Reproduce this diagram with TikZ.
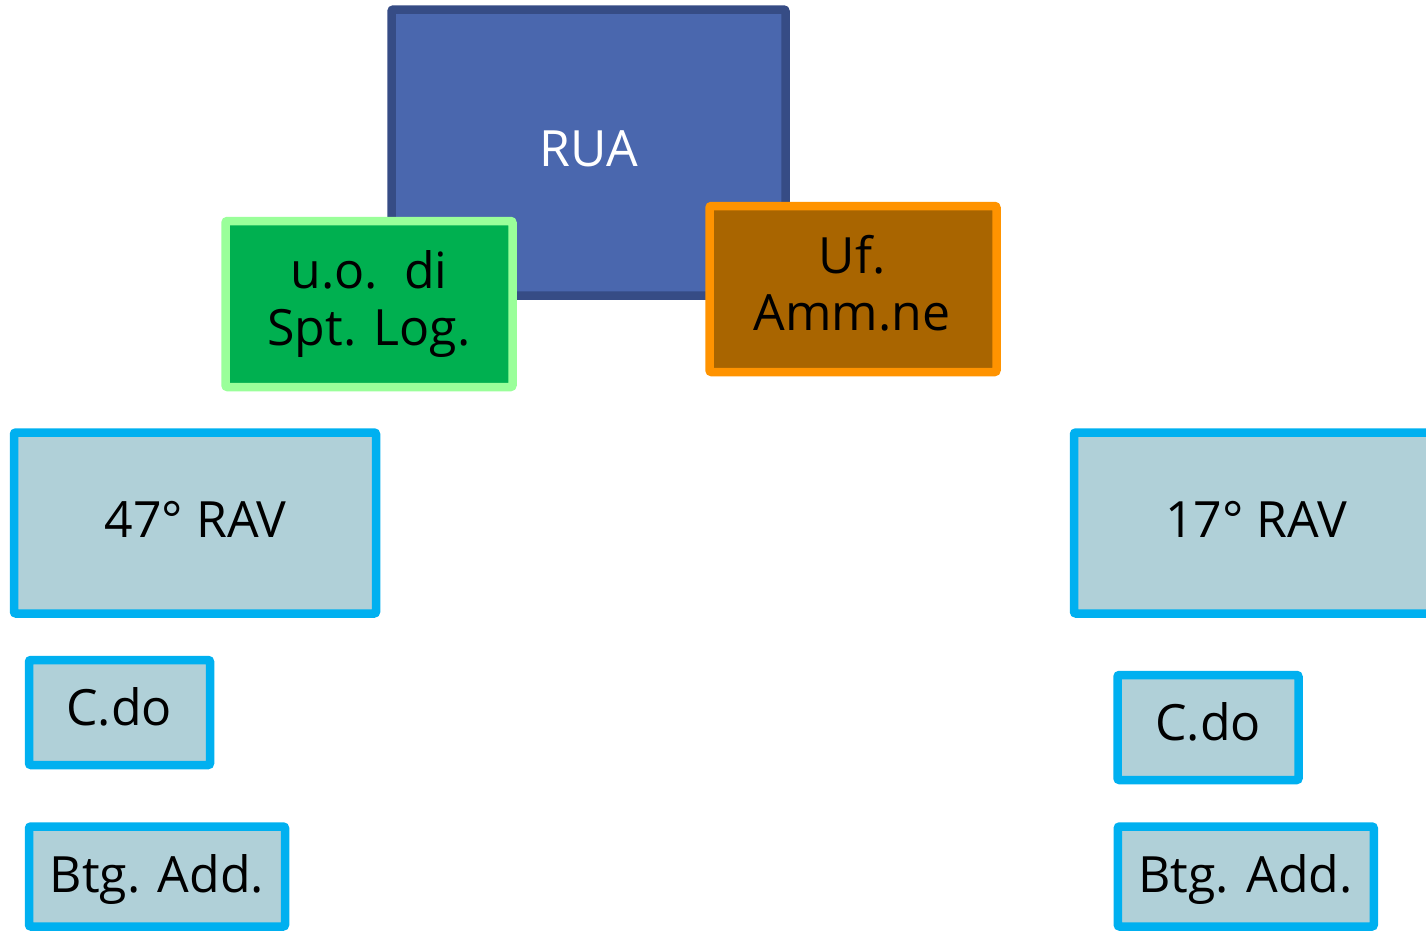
\documentclass[tikz,border=0pt]{standalone}
\usepackage{fontspec}
\setmainfont{Open Sans}
\definecolor{ruafill}{HTML}{4A67AE}
\definecolor{ruaedge}{HTML}{364C85}
\definecolor{grfill}{HTML}{00B050}
\definecolor{gredge}{HTML}{9AFF9A}
\definecolor{orfill}{HTML}{A96500}
\definecolor{oredge}{HTML}{FF9300}
\definecolor{blfill}{HTML}{B0D0D8}
\definecolor{bledge}{HTML}{00B0F0}
\begin{document}
\begin{tikzpicture}[x=1pt,y=-1pt,
  boxshape/.style={draw, rectangle, rounded corners=2pt, line width=8.5pt, inner sep=0pt, outer sep=0pt},
  ruabox/.style={boxshape, fill=ruafill, draw=ruaedge},
  grbox/.style={boxshape, fill=grfill, draw=gredge},
  orbox/.style={boxshape, fill=orfill, draw=oredge},
  blbox/.style={boxshape, fill=blfill, draw=bledge},
  lbl/.style={anchor=base, inner sep=0pt, align=center, font=\fontsize{50}{57}\selectfont}
]
\useasboundingbox (0,0) rectangle (1426,932);
\clip (0,0) rectangle (1426,932);
% boxes
\node[ruabox, minimum width=394pt, minimum height=286pt] (rua) at (588.5,152.5) {};
\node[grbox, minimum width=287pt, minimum height=166pt] (uo) at (369,304) {};
\node[orbox, minimum width=287pt, minimum height=166pt] (uf) at (853,289) {};
\node[blbox, minimum width=362pt, minimum height=181pt] (ravl) at (195,523) {};
\node[blbox, minimum width=364pt, minimum height=181pt] (ravr) at (1256,523) {};
\node[blbox, minimum width=181pt, minimum height=105pt] (cdol) at (119.5,712.5) {};
\node[blbox, minimum width=181pt, minimum height=105pt] (cdor) at (1208,727.5) {};
\node[blbox, minimum width=256pt, minimum height=100pt] (btgl) at (157,876.5) {};
\node[blbox, minimum width=256pt, minimum height=100pt] (btgr) at (1245.75,876.5) {};
% labels (base anchor = baseline of the last line)
\node[lbl, text=white] (ruat) at (588.5,166) {RUA};
\node[lbl] (uot) at (369,345) {u.o.\ \ di\\Spt. Log.};
\node[lbl] (uft) at (852,330.5) {Uf.\\Amm.ne};
\node[lbl] (ravlt) at (195.5,537) {47° RAV};
\node[lbl] (ravrt) at (1256,537) {17° RAV};
\node[lbl] (cdolt) at (119,725) {C.do};
\node[lbl] (cdort) at (1208,740) {C.do};
\node[lbl] (btglt) at (157,892) {Btg. Add.};
\node[lbl] (btgrt) at (1245.5,892) {Btg. Add.};
\end{tikzpicture}
\end{document}
